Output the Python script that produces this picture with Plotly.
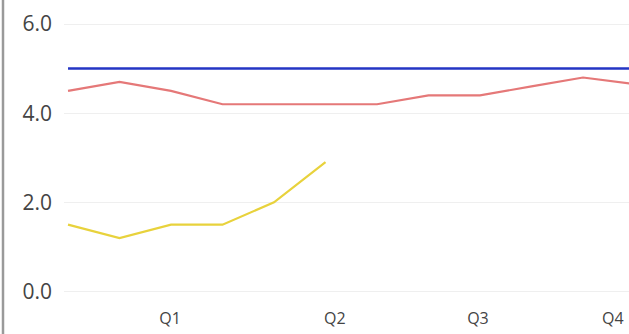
import plotly.graph_objects as go

# Data (monthly points, index positions along x)
points = list(range(12))
benchmark = [5.0] * 12
series_red = [4.5, 4.7, 4.5, 4.2, 4.2, 4.2, 4.2, 4.4, 4.4, 4.6, 4.8, 4.65]
series_yellow = [1.5, 1.2, 1.5, 1.5, 2.0, 2.9]

quarter_labels = ["Q1", "Q2", "Q3", "Q4"]
quarter_pos = [1.98, 5.18, 7.96, 10.58]

y_ticks = [0, 2, 4, 6]
y_tick_text = ["0.0", "2.0", "4.0", "6.0"]

fig = go.Figure()
fig.add_trace(go.Scatter(x=points, y=benchmark, mode="lines",
                         line=dict(color="#2435c4", width=2.5), hoverinfo="skip"))
fig.add_trace(go.Scatter(x=points, y=series_red, mode="lines",
                         line=dict(color="#e57878", width=2.2), hoverinfo="skip"))
fig.add_trace(go.Scatter(x=points[:len(series_yellow)], y=series_yellow, mode="lines",
                         line=dict(color="#e8d23c", width=2.2), hoverinfo="skip"))

fig.update_layout(
    width=629, height=334,
    margin=dict(l=64, r=0, t=10, b=30),
    paper_bgcolor="white", plot_bgcolor="white",
    showlegend=False,
    font=dict(family="Open Sans, Noto Sans, sans-serif", color="#444444"),
    xaxis=dict(range=[-0.078, 10.893], tickmode="array",
               tickvals=quarter_pos, ticktext=quarter_labels,
               showgrid=False, zeroline=False, showline=False,
               ticks="", tickfont=dict(size=16), ticklabelstandoff=3),
    yaxis=dict(range=[-0.28, 6.314], tickmode="array",
               tickvals=y_ticks, ticktext=y_tick_text,
               showgrid=True, gridcolor="#efefef", gridwidth=1,
               zeroline=False, showline=False, ticks="",
               tickfont=dict(size=21), ticklabelstandoff=11),
    shapes=[dict(type="line", xref="paper", yref="paper",
                 x0=-61/565, x1=-61/565, y0=-0.2, y1=1.1,
                 line=dict(color="#9a9a9a", width=2.5))],
)

fig.write_html("out.html", config={"displayModeBar": False},
               post_script="document.body.style.margin='0';document.body.style.overflow='hidden';")
